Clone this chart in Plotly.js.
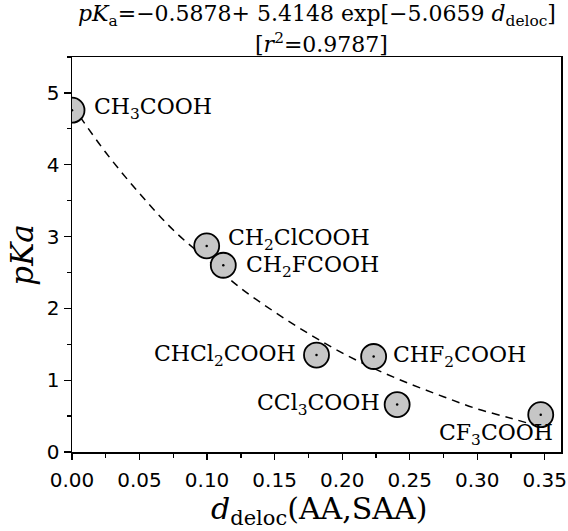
<!DOCTYPE html>
<html>
<head>
<meta charset="utf-8">
<script src="https://cdn.plot.ly/plotly-3.0.1.min.js"></script>
<style>html,body{margin:0;padding:0;background:#fff;}#chart{width:568px;height:531px;}</style>
</head>
<body>
<div id="chart"></div>
<script>
// Data
const acids = ["CH<sub>3</sub>COOH", "CH<sub>2</sub>ClCOOH", "CH<sub>2</sub>FCOOH", "CHCl<sub>2</sub>COOH", "CHF<sub>2</sub>COOH", "CCl<sub>3</sub>COOH", "CF<sub>3</sub>COOH"];
const dDeloc = [0.000, 0.0997, 0.112, 0.181, 0.2233, 0.2407, 0.347];
const pKa = [4.76, 2.87, 2.60, 1.35, 1.33, 0.66, 0.52];

// Fitted curve (dashed)
const fitX = [0.000, 0.025, 0.050, 0.075, 0.100, 0.125, 0.150, 0.175, 0.200, 0.225, 0.250, 0.275, 0.300, 0.325, 0.345];
const fitY = [4.83, 4.17, 3.60, 3.09, 2.68, 2.28, 1.95, 1.65, 1.38, 1.15, 0.95, 0.77, 0.60, 0.47, 0.36];

const xTicks = [0, 0.05, 0.10, 0.15, 0.20, 0.25, 0.30, 0.35];
const xTickText = ["0.00", "0.05", "0.10", "0.15", "0.20", "0.25", "0.30", "0.35"];
const yTicks = [0, 1, 2, 3, 4, 5];

const titleLine1 = "<i>pK</i><sub>a</sub>=−0.5878+ 5.4148 exp[−5.0659 <i>d</i><sub>deloc</sub>]";
const titleLine2 = "[<i>r</i><sup>2</sup>=0.9787]";
const xTitle = "<i>d</i><sub>deloc</sub>(AA,SAA)";
const yTitle = "<i>pKa</i>";

// label placement (layout only)
const labelPlace = [
  {anchor: "left", dx: 20, dy: 2},
  {anchor: "left", dx: 19, dy: 6},
  {anchor: "left", dx: 21, dy: -1},
  {anchor: "right", dx: -19, dy: 0},
  {anchor: "left", dx: 17, dy: 0},
  {anchor: "right", dx: -15, dy: 0},
  {anchor: "right", dx: 14, dy: -20}
];

const serif = "DejaVu Serif, serif";
const sans = "DejaVu Sans, sans-serif";

const traces = [
  {
    x: fitX, y: fitY, mode: "lines", type: "scatter",
    line: {color: "#000", width: 1.5, dash: "8px,6px", shape: "spline"},
    hoverinfo: "skip"
  },
  {
    x: dDeloc, y: pKa, mode: "markers", type: "scatter",
    marker: {size: 25, color: "#c6c6c6", line: {color: "#000", width: 1.8}}
  },
  {
    x: dDeloc, y: pKa, mode: "markers", type: "scatter",
    marker: {size: 2.5, color: "#000"}
  }
];

const annotations = acids.map((name, i) => {
  const p = labelPlace[i];
  return {
    x: dDeloc[i], y: pKa[i], xref: "x", yref: "y",
    text: name, showarrow: false,
    xanchor: p.anchor, yanchor: "middle",
    xshift: p.dx, yshift: p.dy,
    font: {family: serif, size: 22, color: "#000"}
  };
});

annotations.push({
  xref: "paper", yref: "paper", x: 0.5, y: 1.105, xanchor: "center", yanchor: "middle",
  text: titleLine1, showarrow: false, font: {family: serif, size: 22, color: "#000"}
});
annotations.push({
  xref: "paper", yref: "paper", x: 0.51, y: 1.035, xanchor: "center", yanchor: "middle",
  text: titleLine2, showarrow: false, font: {family: serif, size: 22, color: "#000"}
});
annotations.push({
  xref: "paper", yref: "paper", x: 0.505, y: -0.093, xanchor: "center", yanchor: "top",
  text: xTitle, showarrow: false, font: {family: serif, size: 30, color: "#000"}
});
annotations.push({
  xref: "paper", yref: "paper", x: -0.104, y: 0.5, xanchor: "center", yanchor: "middle",
  textangle: -90,
  text: yTitle, showarrow: false, font: {family: serif, size: 31, color: "#000"}
});

const layout = {
  width: 568, height: 531,
  margin: {l: 72, r: 7, t: 57, b: 79, pad: 0},
  paper_bgcolor: "#fff", plot_bgcolor: "#fff",
  showlegend: false,
  xaxis: {
    range: [0, 0.362], showgrid: false, zeroline: false,
    showline: true, linecolor: "#000", linewidth: 1.5, mirror: true,
    ticks: "outside", ticklen: 6, tickwidth: 1.3, tickcolor: "#000",
    tickvals: xTicks, ticktext: xTickText, ticklabelstandoff: 3,
    minor: {dtick: 0.025, tick0: 0, ticks: "outside", ticklen: 4, tickwidth: 1.3, tickcolor: "#000"},
    tickfont: {family: sans, size: 20, color: "#000"}
  },
  yaxis: {
    range: [0, 5.5], showgrid: false, zeroline: false,
    showline: true, linecolor: "#000", linewidth: 1.5, mirror: true,
    ticks: "outside", ticklen: 7, tickwidth: 1.3, tickcolor: "#000",
    tickvals: yTicks,
    minor: {dtick: 0.5, tick0: 0, ticks: "outside", ticklen: 4, tickwidth: 1.3, tickcolor: "#000"},
    tickfont: {family: sans, size: 20, color: "#000"}
  },
  annotations: annotations
};

Plotly.newPlot("chart", traces, layout, {staticPlot: true, displayModeBar: false});
</script>
</body>
</html>
